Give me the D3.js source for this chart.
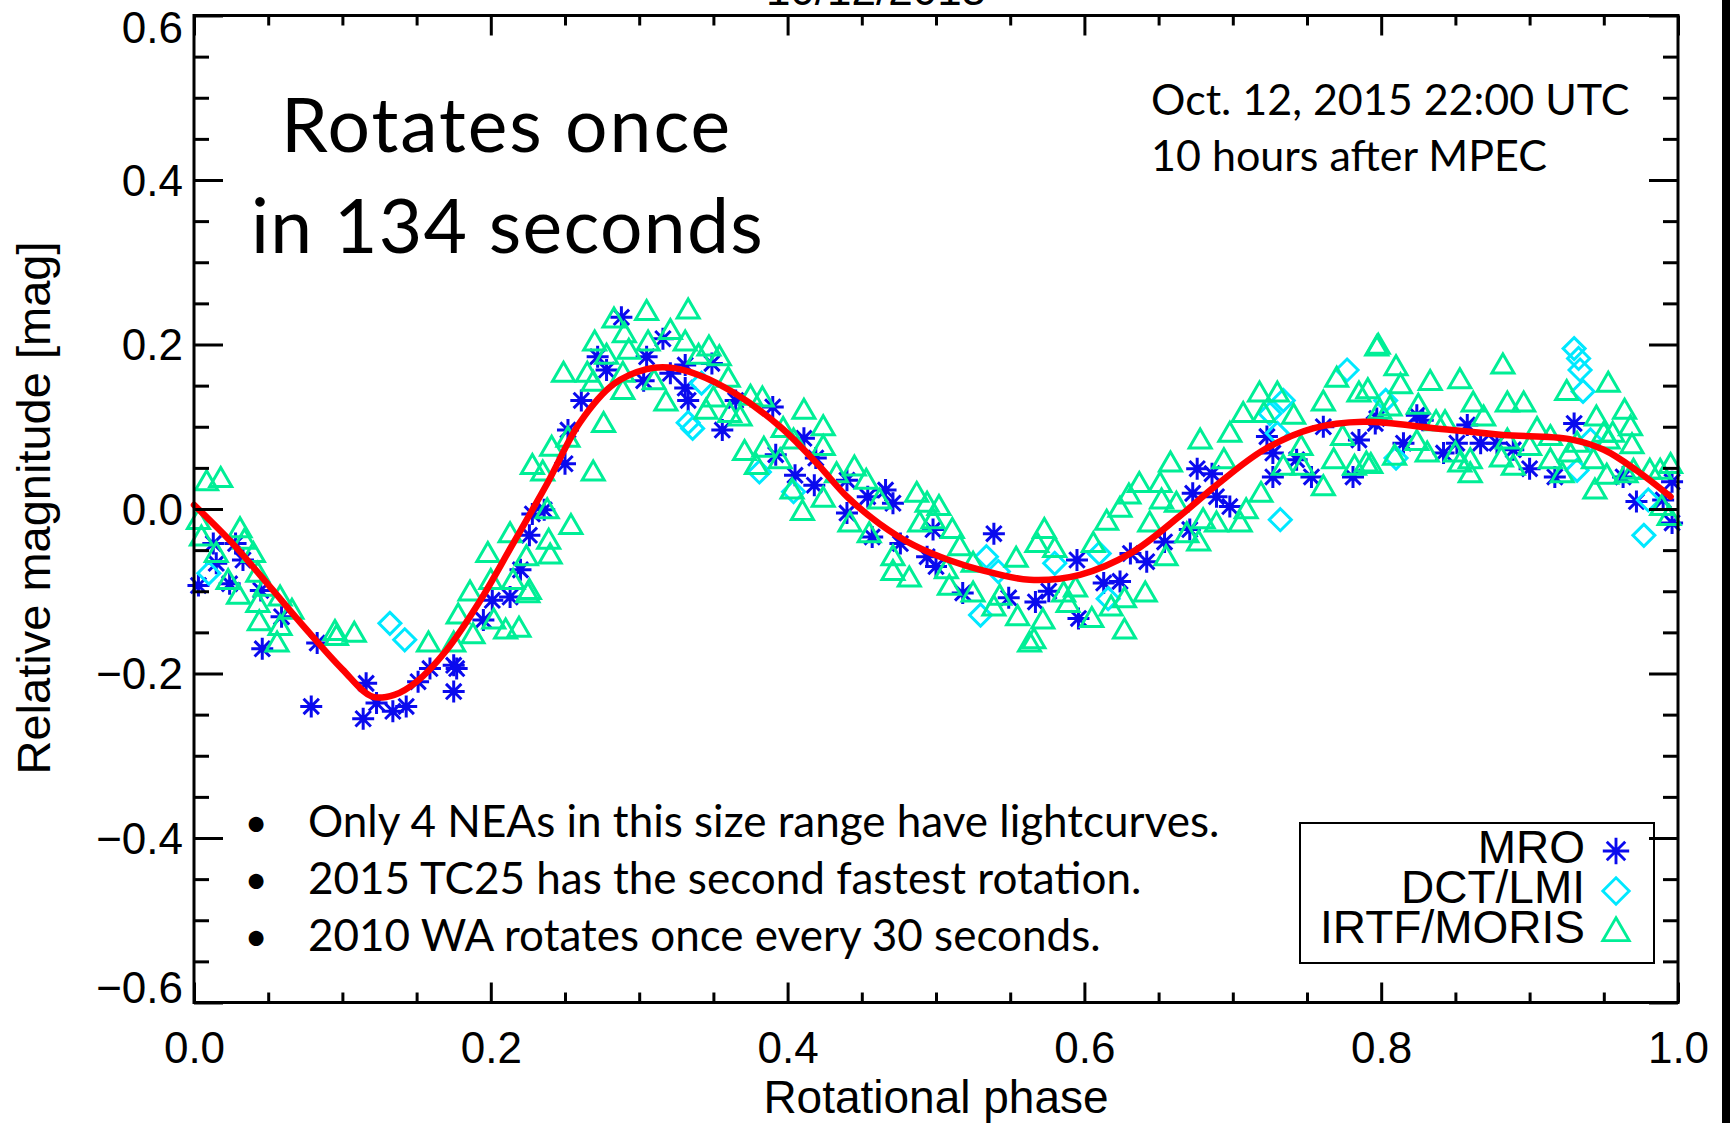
<!DOCTYPE html>
<html>
<head>
<meta charset="utf-8">
<script src="https://cdn.jsdelivr.net/npm/d3@7"></script>
<style>
  html, body { margin: 0; padding: 0; background: #fff; overflow: hidden; }
  svg { display: block; }
</style>
</head>
<body>
<svg id="chart" width="1730" height="1123"></svg>
<script>
// ---------------- DATA ----------------
const xTicks = [0.0, 0.2, 0.4, 0.6, 0.8, 1.0];
const xTickLabels = ["0.0", "0.2", "0.4", "0.6", "0.8", "1.0"];
const yTicks = [-0.6, -0.4, -0.2, 0.0, 0.2, 0.4, 0.6];
const yTickLabels = ["\u22120.6", "\u22120.4", "\u22120.2", "0.0", "0.2", "0.4", "0.6"];

const seriesNames = ["MRO", "DCT/LMI", "IRTF/MORIS"];
const seriesColors = ["#0a0aee", "#00e8ff", "#00ee96"];

// MRO  [phase, relative magnitude]
const mro = [
  [0.003,-0.093],[0.013,-0.042],[0.015,-0.066],[0.024,-0.091],[0.028,-0.042],[0.033,-0.062],
  [0.046,-0.170],[0.045,-0.099],[0.059,-0.131],[0.083,-0.163],[0.079,-0.240],[0.116,-0.212],
  [0.114,-0.255],[0.123,-0.236],[0.134,-0.246],[0.143,-0.240],[0.151,-0.210],[0.159,-0.194],
  [0.175,-0.190],[0.177,-0.194],[0.175,-0.222],[0.195,-0.135],[0.201,-0.111],[0.213,-0.107],
  [0.220,-0.074],[0.226,-0.032],[0.228,-0.006],[0.236,-0.001],[0.250,0.055],[0.252,0.096],
  [0.261,0.132],[0.272,0.185],[0.278,0.169],[0.288,0.233],[0.305,0.185],[0.303,0.156],
  [0.316,0.207],[0.321,0.165],
  [0.331,0.175],[0.349,0.177],[0.331,0.147],[0.333,0.132],[0.356,0.096],[0.365,0.132],
  [0.390,0.124],[0.411,0.086],[0.392,0.066],[0.419,0.062],[0.405,0.041],[0.418,0.029],
  [0.440,0.035],[0.454,0.015],[0.466,0.023],[0.471,0.007],[0.440,-0.005],[0.457,-0.034],
  [0.476,-0.042],[0.498,-0.025],[0.494,-0.058],[0.500,-0.070],[0.539,-0.030],[0.518,-0.102],
  [0.549,-0.108],
  [0.567,-0.113],[0.576,-0.100],[0.595,-0.062],[0.596,-0.133],[0.613,-0.090],[0.624,-0.088],
  [0.631,-0.054],[0.642,-0.064],[0.654,-0.040],[0.671,-0.025],[0.673,0.019],[0.676,0.049],
  [0.686,0.043],[0.689,0.015],[0.698,0.003],[0.723,0.088],[0.727,0.068],[0.727,0.039],
  [0.743,0.060],[0.753,0.039],[0.761,0.100],[0.785,0.084],[0.781,0.039],[0.796,0.104],
  [0.797,0.110],[0.824,0.114],[0.828,0.108],[0.815,0.080],[0.842,0.068],[0.851,0.080],
  [0.858,0.102],[0.867,0.080],[0.878,0.080],[0.889,0.072],[0.900,0.049],[0.917,0.039],
  [0.930,0.104],[0.963,0.039],[0.972,0.009],[0.996,0.033],[0.996,-0.017],[0.990,0.011]
];

// DCT/LMI
const dct = [
  [0.010,-0.078],[0.132,-0.139],[0.142,-0.159],[0.336,0.098],[0.333,0.105],[0.342,0.153],
  [0.381,0.045],[0.404,0.021],[0.534,-0.058],[0.542,-0.076],[0.530,-0.129],[0.580,-0.066],
  [0.610,-0.054],[0.616,-0.109],[0.732,-0.013],[0.777,0.169],[0.734,0.132],[0.725,0.116],
  [0.730,0.092],[0.810,0.062],[0.803,0.132],[0.930,0.195],[0.933,0.183],[0.934,0.169],
  [0.936,0.143],[0.932,0.047],[0.941,0.084],[0.980,0.011],[0.977,-0.032]
];

// IRTF/MORIS
const irtf = [
  [0.0085,0.033],[0.018,0.037],[0.003,-0.014],[0.005,-0.034],[0.031,-0.024],[0.034,-0.038],
  [0.040,-0.054],[0.015,-0.054],[0.023,-0.087],[0.030,-0.105],[0.043,-0.078],[0.048,-0.095],
  [0.043,-0.115],[0.044,-0.137],[0.058,-0.107],[0.066,-0.123],[0.058,-0.143],[0.056,-0.163],
  [0.095,-0.149],[0.096,-0.155],[0.108,-0.151],[0.158,-0.163],[0.175,-0.163],[0.178,-0.129],
  [0.186,-0.101],[0.188,-0.153],[0.198,-0.054],[0.200,-0.087],[0.202,-0.135],[0.210,-0.147],
  [0.219,-0.145],[0.213,-0.030],[0.215,-0.087],[0.224,-0.058],[0.226,-0.099],[0.225,-0.103],
  [0.239,-0.038],[0.240,-0.056],[0.238,-0.001],[0.254,-0.020],[0.228,0.053],[0.235,0.045],
  [0.241,0.075],[0.252,0.086],[0.269,0.045],[0.276,0.104],[0.249,0.165],[0.265,0.165],
  [0.270,0.203],[0.269,0.154],[0.278,0.187],[0.289,0.165],[0.290,0.213],[0.283,0.231],
  [0.293,0.193],[0.289,0.144],[0.305,0.240],[0.306,0.203],[0.310,0.156],[0.318,0.130],
  [0.321,0.217],
  [0.333,0.242],[0.331,0.203],[0.347,0.197],[0.340,0.187],[0.354,0.185],[0.360,0.159],
  [0.350,0.135],[0.345,0.120],[0.361,0.116],[0.368,0.112],[0.375,0.137],[0.383,0.135],
  [0.411,0.120],[0.424,0.100],[0.397,0.098],[0.404,0.084],[0.371,0.070],[0.384,0.074],
  [0.395,0.060],[0.379,0.053],[0.424,0.076],[0.433,0.043],[0.445,0.051],[0.453,0.035],
  [0.424,0.013],[0.403,0.023],[0.410,-0.003],[0.462,0.011],[0.487,0.019],[0.494,0.007],
  [0.502,0.003],[0.442,-0.017],[0.455,-0.030],[0.489,-0.017],[0.498,-0.013],[0.511,-0.025],
  [0.471,-0.058],[0.482,-0.084],[0.471,-0.076],[0.507,-0.074],[0.516,-0.046],[0.525,-0.066],
  [0.509,-0.094],[0.525,-0.102],[0.539,-0.119],[0.554,-0.060],[0.555,-0.131],[0.563,-0.163],
  [0.543,-0.106],
  [0.566,-0.159],[0.572,-0.135],[0.568,-0.042],[0.573,-0.025],[0.580,-0.048],[0.586,-0.102],
  [0.594,-0.096],[0.589,-0.115],[0.605,-0.133],[0.606,-0.042],[0.615,-0.015],[0.618,-0.119],
  [0.627,-0.147],[0.627,-0.109],[0.624,0.001],[0.630,0.017],[0.637,0.031],[0.641,-0.102],
  [0.644,-0.017],[0.651,0.031],[0.652,0.011],[0.658,0.056],[0.655,-0.058],[0.662,0.007],
  [0.669,-0.030],[0.677,-0.040],[0.678,0.084],[0.680,-0.013],[0.689,-0.017],[0.694,0.060],
  [0.698,0.092],[0.705,-0.017],[0.707,0.116],[0.709,-0.001],[0.718,0.141],[0.719,0.019],
  [0.721,0.116],[0.730,0.141],[0.741,0.114],[0.734,0.052],[0.746,0.076],[0.747,0.052],
  [0.761,0.130],[0.761,0.027],[0.770,0.159],[0.768,0.060],[0.774,0.088],[0.785,0.141],
  [0.782,0.052],[0.791,0.145],[0.797,0.197],[0.790,0.056],
  [0.798,0.199],[0.810,0.173],[0.813,0.151],[0.833,0.155],[0.853,0.157],[0.882,0.175],
  [0.862,0.129],[0.885,0.129],[0.896,0.129],[0.925,0.143],[0.953,0.153],[0.793,0.054],
  [0.799,0.120],[0.806,0.124],[0.809,0.064],[0.825,0.126],[0.824,0.082],[0.831,0.068],
  [0.837,0.106],[0.843,0.106],[0.850,0.068],[0.853,0.056],[0.860,0.043],[0.860,0.060],
  [0.869,0.112],[0.881,0.062],[0.889,0.052],[0.885,0.084],[0.900,0.076],[0.905,0.098],
  [0.914,0.088],[0.914,0.060],[0.922,0.043],[0.927,0.068],[0.932,0.080],[0.943,0.060],
  [0.945,0.112],[0.950,0.092],[0.953,0.084],[0.956,0.092],[0.944,0.023],[0.952,0.041],
  [0.964,0.120],[0.968,0.100],[0.969,0.078],[0.965,0.043],[0.970,0.047],[0.981,0.047],
  [0.988,0.047],[0.995,0.054],[0.989,0.003],[0.994,-0.009]
];

// Fitted lightcurve (red)
const fitCurve = [
  [0.000,0.005],[0.025,-0.040],[0.050,-0.092],[0.075,-0.145],[0.100,-0.195],[0.120,-0.228],
  [0.135,-0.226],[0.150,-0.210],[0.170,-0.172],[0.193,-0.111],[0.215,-0.042],[0.238,0.031],
  [0.260,0.105],[0.283,0.152],[0.305,0.170],[0.320,0.172],[0.340,0.163],[0.365,0.140],
  [0.395,0.100],[0.420,0.055],[0.440,0.015],[0.462,-0.018],[0.485,-0.044],[0.510,-0.063],
  [0.530,-0.074],[0.563,-0.086],[0.597,-0.080],[0.631,-0.054],[0.664,-0.009],[0.689,0.029],
  [0.721,0.072],[0.754,0.098],[0.788,0.106],[0.837,0.098],[0.882,0.090],[0.927,0.085],
  [0.950,0.072],[0.972,0.047],[0.995,0.015]
];

const titleText = "10/12/2015";
const bigNote = ["Rotates once", "in 134 seconds"];
const dateNote = ["Oct. 12, 2015 22:00 UTC", "10 hours after MPEC"];
const bullets = [
  "Only 4 NEAs in this size range have lightcurves.",
  "2015 TC25 has the second fastest rotation.",
  "2010 WA rotates once every 30 seconds."
];

// ---------------- LAYOUT ----------------
const L = 194, R = 1678, T = 15.5, B = 1002.5;
const svg = d3.select("#chart");
const x = d3.scaleLinear().domain([0, 1]).range([L, R]);
const y = d3.scaleLinear().domain([-0.6, 0.6]).range([B, T]);
const AX_FONT = "'Liberation Sans', Arial, Helvetica, sans-serif";
const NOTE_FONT = "Lato, 'Open Sans', sans-serif";

svg.append("rect").attr("width", 1730).attr("height", 1123).attr("fill", "#fff");
// black strip at the right edge
svg.append("rect").attr("x", 1722).attr("y", 0).attr("width", 8).attr("height", 1123).attr("fill", "#000");

// cropped title at the very top
svg.append("text").attr("x", 876).attr("y", 5).attr("text-anchor", "middle")
  .attr("font-family", AX_FONT).attr("font-size", 44).text(titleText);

// ---------------- MARKERS ----------------
const r = 11;
const asteriskPath = `M0,${-r}V${r}M${-r},0H${r}M${-0.7*r},${-0.7*r}L${0.7*r},${0.7*r}M${-0.7*r},${0.7*r}L${0.7*r},${-0.7*r}`;
const diamondPath = `M0,${-r}L${r},0L0,${r}L${-r},0Z`;
const trianglePath = `M0,${-11}L${11},${8}L${-11},${8}Z`;
const shapes = [asteriskPath, diamondPath, trianglePath];

const plot = svg.append("g");
[mro, dct, irtf].forEach((data, i) => {
  plot.append("g").selectAll("path").data(data).join("path")
    .attr("d", shapes[i])
    .attr("transform", d => `translate(${x(d[0])},${y(d[1])})`)
    .attr("fill", "none")
    .attr("stroke", seriesColors[i])
    .attr("stroke-width", 3);
});

// fit curve
plot.append("path")
  .datum(fitCurve)
  .attr("d", d3.line().x(d => x(d[0])).y(d => y(d[1])).curve(d3.curveCatmullRom.alpha(0.5)))
  .attr("fill", "none").attr("stroke", "#ff0000").attr("stroke-width", 6.5)
  .attr("stroke-linecap", "round");

// ---------------- AXES ----------------
const xMinor = d3.range(0, 1.0001, 0.05).filter(v => Math.abs(v * 5 - Math.round(v * 5)) > 1e-6);
const yMinor = d3.range(-0.6, 0.6001, 0.05).filter(v => Math.abs(v * 5 - Math.round(v * 5)) > 1e-6);

function styleAxis(g) {
  g.select(".domain").remove();
  g.selectAll(".tick line").attr("stroke", "#000").attr("stroke-width", 3);
}

// bottom
const gB = svg.append("g").attr("transform", `translate(0,${B})`)
  .call(d3.axisBottom(x).tickValues(xTicks).tickSize(-20).tickFormat((d, i) => xTickLabels[i]));
styleAxis(gB);
gB.selectAll(".tick text").attr("y", 60.5).attr("dy", 0)
  .attr("font-family", AX_FONT).attr("font-size", 44).attr("fill", "#000");
svg.append("g").attr("transform", `translate(0,${B})`)
  .call(d3.axisBottom(x).tickValues(xMinor).tickSize(-10).tickFormat("")).call(styleAxis);
// top
svg.append("g").attr("transform", `translate(0,${T})`)
  .call(d3.axisTop(x).tickValues(xTicks).tickSize(-20).tickFormat("")).call(styleAxis);
svg.append("g").attr("transform", `translate(0,${T})`)
  .call(d3.axisTop(x).tickValues(xMinor).tickSize(-10).tickFormat("")).call(styleAxis);
// left
const gL = svg.append("g").attr("transform", `translate(${L},0)`)
  .call(d3.axisLeft(y).tickValues(yTicks).tickSize(-29).tickFormat((d, i) => yTickLabels[i]));
styleAxis(gL);
gL.selectAll(".tick text").attr("x", -11).attr("dy", (d, i) => {
    if (i === 0) return "-0.0em";
    if (i === yTicks.length - 1) return "0.62em";
    return "0.35em";
  })
  .attr("text-anchor", "end")
  .attr("font-family", AX_FONT).attr("font-size", 44).attr("fill", "#000");
svg.append("g").attr("transform", `translate(${L},0)`)
  .call(d3.axisLeft(y).tickValues(yMinor).tickSize(-15).tickFormat("")).call(styleAxis);
// right
svg.append("g").attr("transform", `translate(${R},0)`)
  .call(d3.axisRight(y).tickValues(yTicks).tickSize(-29).tickFormat("")).call(styleAxis);
svg.append("g").attr("transform", `translate(${R},0)`)
  .call(d3.axisRight(y).tickValues(yMinor).tickSize(-15).tickFormat("")).call(styleAxis);

// frame
svg.append("rect").attr("x", L).attr("y", T).attr("width", R - L).attr("height", B - T)
  .attr("fill", "none").attr("stroke", "#000").attr("stroke-width", 3);

// axis titles
svg.append("text").attr("x", (L + R) / 2).attr("y", 1113).attr("text-anchor", "middle")
  .attr("font-family", AX_FONT).attr("font-size", 46).text("Rotational phase");
svg.append("text").attr("transform", `translate(50,${508}) rotate(-90)`).attr("text-anchor", "middle")
  .attr("font-family", AX_FONT).attr("font-size", 47).text("Relative magnitude [mag]");

// ---------------- ANNOTATIONS ----------------
svg.append("text").attr("x", 281).attr("y", 152).attr("font-family", NOTE_FONT)
  .attr("font-size", 75).attr("letter-spacing", 2).text(bigNote[0]);
svg.append("text").attr("x", 251).attr("y", 253).attr("font-family", NOTE_FONT)
  .attr("font-size", 75).attr("letter-spacing", 1.3).text(bigNote[1]);

dateNote.forEach((t, i) => {
  svg.append("text").attr("x", 1151).attr("y", 115 + i * 56).attr("font-family", NOTE_FONT)
    .attr("font-size", 43).text(t);
});

bullets.forEach((t, i) => {
  const by = 837 + i * 57;
  svg.append("text").attr("x", 256).attr("y", by).attr("text-anchor", "middle")
    .attr("font-family", NOTE_FONT).attr("font-size", 40).text("\u2022");
  svg.append("text").attr("x", 308).attr("y", by).attr("font-family", NOTE_FONT)
    .attr("font-size", 44).text(t);
});

// ---------------- LEGEND ----------------
const lg = svg.append("g");
lg.append("rect").attr("x", 1300).attr("y", 823).attr("width", 354).attr("height", 140)
  .attr("fill", "none").attr("stroke", "#000").attr("stroke-width", 2);
seriesNames.forEach((name, i) => {
  const by = 863 + i * 40;
  lg.append("text").attr("x", 1585).attr("y", by).attr("text-anchor", "end")
    .attr("font-family", AX_FONT).attr("font-size", 46).text(name);
  lg.append("path").attr("d", shapes[i])
    .attr("transform", `translate(1616,${by - 12}) scale(1.2)`)
    .attr("fill", "none").attr("stroke", seriesColors[i]).attr("stroke-width", 2.4);
});
</script>
</body>
</html>
